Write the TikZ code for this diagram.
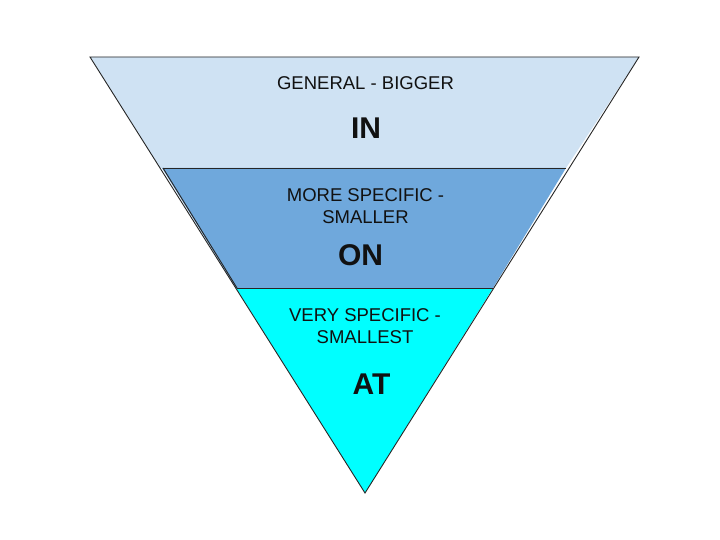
\documentclass[tikz,border=0pt]{standalone}
\usepackage{fontspec}
\setmainfont{Liberation Sans}
\definecolor{bandtop}{HTML}{CFE2F3}
\definecolor{bandmid}{HTML}{6FA8DC}
\definecolor{bandlow}{HTML}{00FFFF}
\definecolor{ink}{HTML}{111111}
\begin{document}
\begin{tikzpicture}[x=1bp,y=-1bp,
  band/.style={draw=black!85,line width=0.9bp,line join=miter},
  small/.style={text=ink,align=center,inner sep=0pt,font=\fontsize{18.5bp}{22bp}\selectfont},
  big/.style={text=ink,inner sep=0pt,font=\fontsize{30bp}{32bp}\selectfont\bfseries}]
\useasboundingbox (0,0) rectangle (720,540);
\fill[white] (0,0) rectangle (720,540);
% top band
\fill[bandtop] (90,57) -- (639,57) -- (566,168) -- (160,168) -- cycle;
% middle band
\fill[bandmid] (162,168) -- (566,168) -- (493,288) -- (236,288) -- cycle;
% bottom band
\fill[bandlow] (236,288) -- (493,288) -- (365,493) -- cycle;
% outlines
\draw[band] (90,57) -- (639,57) -- (365,493) -- cycle;
\draw[band] (163,168) -- (566,168);
\draw[band] (163,168) -- (237,288);
\draw[band] (237,288) -- (493,288);
% texts
\node[small] (t1) at (365.5,83) {GENERAL - BIGGER};
\node[big] (w1) at (366,128) {IN};
\node[small] (t2) at (365.5,206.5) {MORE SPECIFIC -\\SMALLER};
\node[big] (w2) at (360.5,255) {ON};
\node[small] (t3) at (365,326.5) {VERY SPECIFIC -\\SMALLEST};
\node[big] (w3) at (371.5,384.5) {AT};
\end{tikzpicture}
\end{document}
